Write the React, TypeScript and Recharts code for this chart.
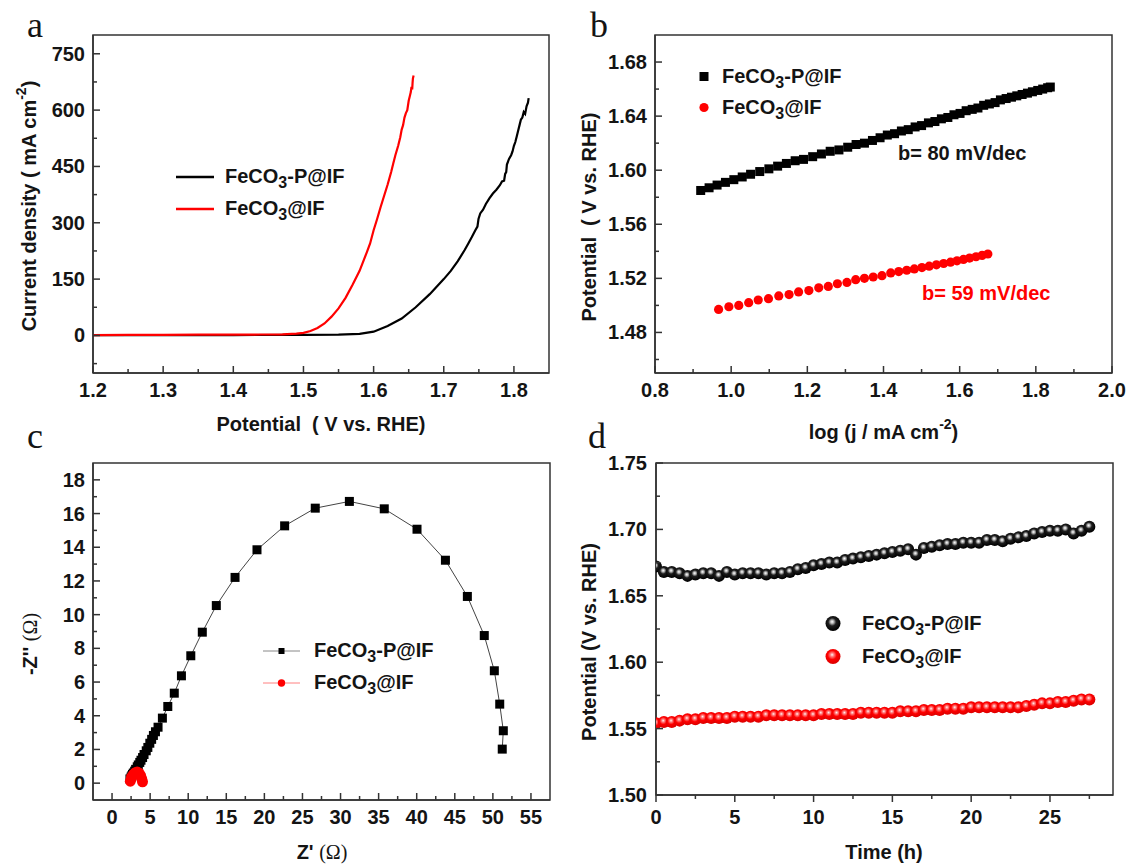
import React from "react";
import {
  LineChart,
  Line,
  ScatterChart,
  Scatter,
  XAxis,
  YAxis,
  ReferenceArea,
  Legend,
} from "recharts";

const FONT = "'Liberation Sans', Arial, Helvetica, sans-serif";
const SERIF = "'Liberation Serif', 'Times New Roman', serif";
const INK = "#141414";
const AXIS = "#333333";
const RED = "#ff0000";

// (a) polarization curves: potential (V vs. RHE) / current density (mA cm-2)
const lsvPotRed = [1.2, 1.25, 1.3, 1.35, 1.4, 1.44, 1.47, 1.49, 1.5, 1.51, 1.52, 1.53, 1.54, 1.55, 1.56, 1.57, 1.58, 1.59, 1.595, 1.6, 1.605, 1.61, 1.615, 1.62, 1.625, 1.628, 1.631, 1.635, 1.638, 1.64, 1.642, 1.644, 1.646, 1.648, 1.65, 1.652, 1.653, 1.654, 1.655, 1.6555, 1.656, 1.657];
const lsvJRed = [1, 1.5, 1.5, 2, 2, 2.5, 3, 5, 7, 12, 20, 32, 50, 72, 100, 135, 172, 220, 245, 280, 310, 342, 372, 402, 435, 458, 480, 505, 528, 548, 560, 580, 592, 600, 625, 640, 648, 662, 655, 672, 684, 692];
const lsvPotBlack = [1.2, 1.3, 1.4, 1.5, 1.55, 1.58, 1.6, 1.62, 1.64, 1.66, 1.68, 1.7, 1.71, 1.72, 1.73, 1.735, 1.74, 1.745, 1.748, 1.7495, 1.752, 1.756, 1.76, 1.765, 1.77, 1.775, 1.78, 1.783, 1.786, 1.7875, 1.789, 1.79, 1.793, 1.796, 1.798, 1.8, 1.802, 1.804, 1.806, 1.808, 1.81, 1.812, 1.814, 1.816, 1.818, 1.82, 1.821];
const lsvJBlack = [1, 1, 1, 1.5, 2, 4, 10, 25, 45, 75, 110, 150, 172, 198, 228, 245, 262, 280, 290, 310, 325, 335, 350, 365, 378, 388, 400, 410, 412, 430, 435, 455, 470, 480, 490, 505, 515, 530, 545, 560, 575, 580, 595, 590, 610, 620, 632];

// (b) Tafel plots: log(j) / potential
const tafelLogJBlack = [0.92, 0.942, 0.963, 0.985, 1.007, 1.029, 1.051, 1.075, 1.099, 1.122, 1.145, 1.168, 1.19, 1.214, 1.237, 1.26, 1.283, 1.306, 1.328, 1.35, 1.371, 1.391, 1.41, 1.429, 1.447, 1.465, 1.483, 1.5, 1.518, 1.535, 1.552, 1.569, 1.585, 1.601, 1.617, 1.633, 1.648, 1.663, 1.678, 1.693, 1.707, 1.722, 1.736, 1.75, 1.764, 1.778, 1.791, 1.805, 1.818, 1.831, 1.838];
const tafelPotBlack = [1.585, 1.587, 1.589, 1.591, 1.593, 1.595, 1.597, 1.599, 1.601, 1.603, 1.605, 1.607, 1.608, 1.61, 1.612, 1.614, 1.615, 1.617, 1.619, 1.62, 1.622, 1.624, 1.626, 1.627, 1.629, 1.63, 1.632, 1.633, 1.635, 1.636, 1.638, 1.639, 1.641, 1.642, 1.644, 1.645, 1.646, 1.648, 1.649, 1.65, 1.652, 1.653, 1.654, 1.655, 1.656, 1.657, 1.658, 1.659, 1.66, 1.661, 1.6615];
const tafelLogJRed = [0.967, 0.994, 1.02, 1.046, 1.071, 1.098, 1.125, 1.152, 1.177, 1.204, 1.23, 1.255, 1.279, 1.304, 1.327, 1.35, 1.373, 1.396, 1.419, 1.44, 1.461, 1.481, 1.501, 1.52, 1.539, 1.558, 1.576, 1.593, 1.61, 1.626, 1.643, 1.659, 1.674];
const tafelPotRed = [1.497, 1.499, 1.5, 1.502, 1.504, 1.505, 1.507, 1.508, 1.51, 1.511, 1.513, 1.514, 1.516, 1.517, 1.519, 1.52, 1.521, 1.522, 1.524, 1.525, 1.526, 1.527, 1.528, 1.529, 1.53, 1.531, 1.532, 1.533, 1.534, 1.535, 1.536, 1.537, 1.538];

// (c) Nyquist plots: Z' / -Z''
const eisReBlack = [2.35, 2.5, 2.6, 2.69, 2.8, 2.97, 3.1, 3.31, 3.45, 3.64, 3.8, 4.01, 4.2, 4.49, 4.7, 4.96, 5.2, 5.43, 5.7, 6.04, 6.61, 7.32, 8.17, 9.11, 10.34, 11.85, 13.69, 16.15, 19.03, 22.66, 26.68, 31.16, 35.74, 40.04, 43.77, 46.65, 48.87, 50.19, 50.9, 51.37, 51.23];
const eisImBlack = [0.25, 0.36, 0.44, 0.52, 0.6, 0.71, 0.82, 0.97, 1.08, 1.23, 1.36, 1.52, 1.7, 1.92, 2.12, 2.37, 2.6, 2.83, 3.05, 3.32, 3.86, 4.55, 5.34, 6.37, 7.56, 8.96, 10.54, 12.21, 13.85, 15.27, 16.32, 16.72, 16.28, 15.07, 13.23, 11.08, 8.76, 6.67, 4.69, 3.11, 2.02];
const eisReRed = [2.4, 2.55, 2.8, 3.05, 3.3, 3.55, 3.75, 3.9, 4.0];
const eisImRed = [0.12, 0.35, 0.52, 0.62, 0.66, 0.6, 0.45, 0.25, 0.08];

// (d) chronopotentiometry: time (h) / potential
const stabTime = [0, 0.5, 1, 1.5, 2, 2.5, 3, 3.5, 4, 4.5, 5, 5.5, 6, 6.5, 7, 7.5, 8, 8.5, 9, 9.5, 10, 10.5, 11, 11.5, 12, 12.5, 13, 13.5, 14, 14.5, 15, 15.5, 16, 16.5, 17, 17.5, 18, 18.5, 19, 19.5, 20, 20.5, 21, 21.5, 22, 22.5, 23, 23.5, 24, 24.5, 25, 25.5, 26, 26.5, 27, 27.5];
const stabBlack = [1.672, 1.668, 1.668, 1.667, 1.665, 1.666, 1.667, 1.667, 1.665, 1.668, 1.666, 1.667, 1.667, 1.667, 1.666, 1.667, 1.667, 1.668, 1.67, 1.671, 1.673, 1.674, 1.675, 1.675, 1.677, 1.678, 1.679, 1.68, 1.681, 1.682, 1.683, 1.684, 1.685, 1.681, 1.686, 1.687, 1.688, 1.689, 1.689, 1.69, 1.69, 1.69, 1.692, 1.692, 1.691, 1.693, 1.694, 1.695, 1.697, 1.698, 1.699, 1.699, 1.7, 1.697, 1.699, 1.702];
const stabRed = [1.554, 1.555, 1.555, 1.556, 1.557, 1.557, 1.558, 1.558, 1.558, 1.558, 1.559, 1.559, 1.559, 1.559, 1.56, 1.56, 1.56, 1.56, 1.56, 1.56, 1.56, 1.561, 1.561, 1.561, 1.561, 1.561, 1.562, 1.562, 1.562, 1.562, 1.562, 1.563, 1.563, 1.563, 1.564, 1.564, 1.564, 1.565, 1.565, 1.565, 1.566, 1.566, 1.566, 1.566, 1.566, 1.566, 1.566, 1.567, 1.568, 1.569, 1.569, 1.57, 1.57, 1.571, 1.572, 1.572];

// tick values (all ticks, then the labelled ones)
const aXTicks = [1.2, 1.25, 1.3, 1.35, 1.4, 1.45, 1.5, 1.55, 1.6, 1.65, 1.7, 1.75, 1.8];
const aXMajor = [1.2, 1.3, 1.4, 1.5, 1.6, 1.7, 1.8];
const aYTicks = [-75, 0, 75, 150, 225, 300, 375, 450, 525, 600, 675, 750];
const aYMajor = [0, 150, 300, 450, 600, 750];
const bXTicks = [0.8, 0.9, 1.0, 1.1, 1.2, 1.3, 1.4, 1.5, 1.6, 1.7, 1.8, 1.9, 2.0];
const bXMajor = [0.8, 1.0, 1.2, 1.4, 1.6, 1.8, 2.0];
const bYTicks = [1.46, 1.48, 1.5, 1.52, 1.54, 1.56, 1.58, 1.6, 1.62, 1.64, 1.66, 1.68];
const bYMajor = [1.48, 1.52, 1.56, 1.6, 1.64, 1.68];
const cXTicks = [0, 2.5, 5, 7.5, 10, 12.5, 15, 17.5, 20, 22.5, 25, 27.5, 30, 32.5, 35, 37.5, 40, 42.5, 45, 47.5, 50, 52.5, 55];
const cXMajor = [0, 5, 10, 15, 20, 25, 30, 35, 40, 45, 50, 55];
const cYTicks = [0, 1, 2, 3, 4, 5, 6, 7, 8, 9, 10, 11, 12, 13, 14, 15, 16, 17, 18];
const cYMajor = [0, 2, 4, 6, 8, 10, 12, 14, 16, 18];
const dXTicks = [0, 2.5, 5, 7.5, 10, 12.5, 15, 17.5, 20, 22.5, 25, 27.5];
const dXMajor = [0, 5, 10, 15, 20, 25];
const dYTicks = [1.5, 1.525, 1.55, 1.575, 1.6, 1.625, 1.65, 1.675, 1.7, 1.725, 1.75];
const dYMajor = [1.5, 1.55, 1.6, 1.65, 1.7, 1.75];

const zip = (xs: number[], ys: number[]) => xs.map((x, i) => ({ x, y: ys[i] }));

const lsvRed = zip(lsvPotRed, lsvJRed);
const lsvBlack = zip(lsvPotBlack, lsvJBlack);
const tafelBlack = zip(tafelLogJBlack, tafelPotBlack);
const tafelRed = zip(tafelLogJRed, tafelPotRed);
const eisBlack = zip(eisReBlack, eisImBlack);
const eisRed = zip(eisReRed, eisImRed);
const stabB = zip(stabTime, stabBlack);
const stabR = zip(stabTime, stabRed);

type TickCfg = { major: number[]; digits: number; inward: boolean; offset: number };
const near = (list: number[], v: number) => list.some((m) => Math.abs(m - v) < 1e-6);

const tickText = { fontFamily: FONT, fontWeight: 700, fontSize: 20, fill: INK } as const;
const titleText = { fontFamily: FONT, fontWeight: 700, fontSize: 20, fill: INK } as const;

function xTick(cfg: TickCfg) {
  return (p: any) => {
    const v = Number(p.payload.value);
    const big = near(cfg.major, v);
    const len = big ? 7 : 4;
    return (
      <g>
        <line x1={p.x} x2={p.x} y1={p.y} y2={cfg.inward ? p.y - len : p.y + len} stroke={AXIS} strokeWidth={1.5} />
        {big && (
          <text x={p.x} y={p.y + cfg.offset} textAnchor="middle" dominantBaseline="central" {...tickText}>
            {v.toFixed(cfg.digits)}
          </text>
        )}
      </g>
    );
  };
}

function yTick(cfg: TickCfg) {
  return (p: any) => {
    const v = Number(p.payload.value);
    const big = near(cfg.major, v);
    const len = big ? 7 : 4;
    return (
      <g>
        <line y1={p.y} y2={p.y} x1={p.x} x2={cfg.inward ? p.x + len : p.x - len} stroke={AXIS} strokeWidth={1.5} />
        {big && (
          <text x={p.x - cfg.offset} y={p.y} textAnchor="end" dominantBaseline="central" {...tickText}>
            {v.toFixed(cfg.digits)}
          </text>
        )}
      </g>
    );
  };
}

const axisLine = { stroke: AXIS, strokeWidth: 1.5 };

const sub = { fontSize: 16, position: "relative" as const, top: 5, verticalAlign: "baseline" };

type Row = { marker: React.ReactNode; label: React.ReactNode };

function LegendBox({ rows, markerW, gap, rowH }: { rows: Row[]; markerW: number; gap: number; rowH: number }) {
  return (
    <div style={{ fontFamily: FONT, fontWeight: 700, fontSize: 20, color: INK }}>
      {rows.map((r, i) => (
        <div key={i} style={{ display: "flex", alignItems: "center", height: rowH }}>
          <svg width={markerW} height={rowH} style={{ flex: "none", overflow: "visible" }}>
            {r.marker}
          </svg>
          <span style={{ marginLeft: gap, whiteSpace: "nowrap", lineHeight: `${rowH}px` }}>{r.label}</span>
        </div>
      ))}
    </div>
  );
}

const labelP = (
  <>
    FeCO<sub style={sub}>3</sub>-P@IF
  </>
);
const labelN = (
  <>
    FeCO<sub style={sub}>3</sub>@IF
  </>
);

const square = (size: number) => (p: any) => (
  <rect x={p.cx - size / 2} y={p.cy - size / 2} width={size} height={size} fill="#000" />
);
const dot = (r: number, fill: string) => (p: any) => <circle cx={p.cx} cy={p.cy} r={r} fill={fill} />;

function PanelA() {
  return (
    <LineChart width={560} height={440} margin={{ top: 35, right: 11, bottom: 27, left: 0 }}>
      <XAxis
        type="number"
        dataKey="x"
        domain={[1.2, 1.85]}
        allowDataOverflow
        ticks={aXTicks}
        interval={0}
        tickSize={0}
        tickMargin={0}
        tickLine={false}
        axisLine={axisLine}
        height={40}
        tick={xTick({ major: aXMajor, digits: 1, inward: true, offset: 17 })}
        label={() => (
          <text x={321} y={424} textAnchor="middle" dominantBaseline="central" {...titleText}>
            {"Potential\u00a0 ( V vs. RHE)"}
          </text>
        )}
      />
      <YAxis
        type="number"
        domain={[-100, 800]}
        allowDataOverflow
        ticks={aYTicks}
        interval={0}
        tickSize={0}
        tickMargin={0}
        tickLine={false}
        axisLine={axisLine}
        width={93}
        tick={yTick({ major: aYMajor, digits: 0, inward: true, offset: 8 })}
        label={() => (
          <text x={29} y={206} transform="rotate(-90 29 206)" textAnchor="middle" dominantBaseline="central" {...titleText}>
            Current density ( mA cm
            <tspan dy={-8} fontSize={14}>-2</tspan>
            <tspan dy={8}>)</tspan>
          </text>
        )}
      />
      <Line data={lsvBlack} dataKey="y" stroke="#000" strokeWidth={2.2} dot={false} isAnimationActive={false} />
      <Line data={lsvRed} dataKey="y" stroke={RED} strokeWidth={2.2} dot={false} isAnimationActive={false} />
      <ReferenceArea x1={1.2} x2={1.85} y1={-100} y2={800} fill="none" stroke={AXIS} strokeWidth={1.5} />
      <Legend
        layout="vertical"
        align="center"
        verticalAlign="middle"
        wrapperStyle={{ left: 176, top: 161, width: 300 }}
        content={() => (
          <LegendBox
            markerW={38}
            gap={11}
            rowH={32}
            rows={[
              { marker: <line x1={0} x2={38} y1={16} y2={16} stroke="#000" strokeWidth={2.5} />, label: labelP },
              { marker: <line x1={0} x2={38} y1={16} y2={16} stroke={RED} strokeWidth={2.5} />, label: labelN },
            ]}
          />
        )}
      />
    </LineChart>
  );
}

function PanelB() {
  return (
    <ScatterChart width={567} height={450} margin={{ top: 35, right: 15, bottom: 37, left: 0 }}>
      <XAxis
        type="number"
        dataKey="x"
        domain={[0.8, 2.0]}
        allowDataOverflow
        ticks={bXTicks}
        interval={0}
        tickSize={0}
        tickMargin={0}
        tickLine={false}
        axisLine={axisLine}
        height={40}
        tick={xTick({ major: bXMajor, digits: 1, inward: true, offset: 17 })}
        label={() => (
          <text x={323.5} y={432} textAnchor="middle" dominantBaseline="central" {...titleText}>
            log (j / mA cm
            <tspan dy={-8} fontSize={14}>-2</tspan>
            <tspan dy={8}>)</tspan>
          </text>
        )}
      />
      <YAxis
        type="number"
        dataKey="y"
        domain={[1.45, 1.7]}
        allowDataOverflow
        ticks={bYTicks}
        interval={0}
        tickSize={0}
        tickMargin={0}
        tickLine={false}
        axisLine={axisLine}
        width={95}
        tick={yTick({ major: bYMajor, digits: 2, inward: true, offset: 8 })}
        label={() => (
          <text x={29} y={217} transform="rotate(-90 29 217)" textAnchor="middle" dominantBaseline="central" {...titleText}>
            {"Potential\u00a0 ( V vs. RHE)"}
          </text>
        )}
      />
      <Scatter data={tafelBlack} fill="#000" shape={square(9)} isAnimationActive={false} />
      <Scatter data={tafelRed} fill={RED} shape={dot(4.6, RED)} isAnimationActive={false} />
      <ReferenceArea x1={0.8} x2={2.0} y1={1.45} y2={1.7} fill="none" stroke={AXIS} strokeWidth={1.5} />
      <text x={338} y={153} dominantBaseline="central" {...titleText}>
        b= 80 mV/dec
      </text>
      <text x={362} y={293} dominantBaseline="central" {...titleText} fill={RED}>
        b= 59 mV/dec
      </text>
      <Legend
        layout="vertical"
        align="center"
        verticalAlign="middle"
        wrapperStyle={{ left: 138, top: 61, width: 300 }}
        content={() => (
          <LegendBox
            markerW={12}
            gap={12}
            rowH={31}
            rows={[
              { marker: <rect x={1.5} y={11} width={9} height={9} fill="#000" />, label: labelP },
              { marker: <circle cx={6} cy={15.5} r={4.6} fill={RED} />, label: labelN },
            ]}
          />
        )}
      />
    </ScatterChart>
  );
}

function PanelC() {
  return (
    <ScatterChart width={560} height={424} margin={{ top: 23, right: 10, bottom: 24, left: 0 }}>
      <XAxis
        type="number"
        dataKey="x"
        domain={[-2.5, 57.5]}
        allowDataOverflow
        ticks={cXTicks}
        interval={0}
        tickSize={0}
        tickMargin={0}
        tickLine={false}
        axisLine={axisLine}
        height={40}
        tick={xTick({ major: cXMajor, digits: 0, inward: true, offset: 17 })}
        label={() => (
          <text x={322} y={412} textAnchor="middle" dominantBaseline="central" {...titleText}>
            {"Z' "}
            <tspan fontFamily={SERIF} fontWeight={400}>(Ω)</tspan>
          </text>
        )}
      />
      <YAxis
        type="number"
        dataKey="y"
        domain={[-1, 19]}
        allowDataOverflow
        ticks={cYTicks}
        interval={0}
        tickSize={0}
        tickMargin={0}
        tickLine={false}
        axisLine={axisLine}
        width={93}
        tick={yTick({ major: cYMajor, digits: 0, inward: true, offset: 8 })}
        label={() => (
          <text x={30} y={204} transform="rotate(-90 30 204)" textAnchor="middle" dominantBaseline="central" {...titleText}>
            {"-Z'' "}
            <tspan fontFamily={SERIF} fontWeight={400}>(Ω)</tspan>
          </text>
        )}
      />
      <Scatter
        data={eisBlack}
        fill="#000"
        line={{ stroke: "#444", strokeWidth: 1 }}
        shape={square(9)}
        isAnimationActive={false}
      />
      <Scatter
        data={eisRed}
        fill={RED}
        line={{ stroke: "#ff8080", strokeWidth: 1 }}
        shape={dot(5.5, RED)}
        isAnimationActive={false}
      />
      <ReferenceArea x1={-2.5} x2={57.5} y1={-1} y2={19} fill="none" stroke={AXIS} strokeWidth={1.5} />
      <Legend
        layout="vertical"
        align="center"
        verticalAlign="middle"
        wrapperStyle={{ left: 263, top: 195, width: 300 }}
        content={() => (
          <LegendBox
            markerW={37}
            gap={14}
            rowH={32}
            rows={[
              {
                marker: (
                  <g>
                    <line x1={0} x2={37} y1={16} y2={16} stroke="#888" strokeWidth={1} />
                    <rect x={15.5} y={13} width={6} height={6} fill="#000" />
                  </g>
                ),
                label: labelP,
              },
              {
                marker: (
                  <g>
                    <line x1={0} x2={37} y1={16} y2={16} stroke="#ff8080" strokeWidth={1} />
                    <circle cx={18.5} cy={16} r={3.7} fill={RED} />
                  </g>
                ),
                label: labelN,
              },
            ]}
          />
        )}
      />
    </ScatterChart>
  );
}

function PanelD() {
  return (
    <ScatterChart width={567} height={424} margin={{ top: 23, right: 14, bottom: 29, left: 0 }}>
      <XAxis
        type="number"
        dataKey="x"
        domain={[0, 29]}
        allowDataOverflow
        ticks={dXTicks}
        interval={0}
        tickSize={0}
        tickMargin={0}
        tickLine={false}
        axisLine={axisLine}
        height={40}
        tick={xTick({ major: dXMajor, digits: 0, inward: false, offset: 22 })}
        label={() => (
          <text x={324} y={412} textAnchor="middle" dominantBaseline="central" {...titleText}>
            Time (h)
          </text>
        )}
      />
      <YAxis
        type="number"
        dataKey="y"
        domain={[1.5, 1.75]}
        allowDataOverflow
        ticks={dYTicks}
        interval={0}
        tickSize={0}
        tickMargin={0}
        tickLine={false}
        axisLine={axisLine}
        width={96}
        tick={yTick({ major: dYMajor, digits: 2, inward: true, offset: 9 })}
        label={() => (
          <text x={29} y={202} transform="rotate(-90 29 202)" textAnchor="middle" dominantBaseline="central" {...titleText}>
            Potential (V vs. RHE)
          </text>
        )}
      />
      <Scatter data={stabB} fill="#000" shape={dot(6, "url(#sphereK)")} isAnimationActive={false} />
      <Scatter data={stabR} fill={RED} shape={dot(6, "url(#sphereR)")} isAnimationActive={false} />
      <ReferenceArea x1={0} x2={29} y1={1.5} y2={1.75} fill="none" stroke={AXIS} strokeWidth={1.5} />
      <Legend
        layout="vertical"
        align="center"
        verticalAlign="middle"
        wrapperStyle={{ left: 265, top: 167, width: 300 }}
        content={() => (
          <LegendBox
            markerW={16}
            gap={21}
            rowH={33}
            rows={[
              { marker: <circle cx={8} cy={16.5} r={7.5} fill="url(#sphereK)" />, label: labelP },
              { marker: <circle cx={8} cy={16.5} r={7.5} fill="url(#sphereR)" />, label: labelN },
            ]}
          />
        )}
      />
    </ScatterChart>
  );
}

export default function App() {
  const letter = { fontFamily: SERIF, fontSize: 36, fill: INK } as const;
  return (
    <div style={{ position: "absolute", left: 0, top: 0, width: 1127, height: 864, background: "#fff" }}>
      <div style={{ position: "absolute", left: 0, top: 0 }}>
        <PanelA />
      </div>
      <div style={{ position: "absolute", left: 560, top: 0 }}>
        <PanelB />
      </div>
      <div style={{ position: "absolute", left: 0, top: 440 }}>
        <PanelC />
      </div>
      <div style={{ position: "absolute", left: 560, top: 440 }}>
        <PanelD />
      </div>
      <svg width={1127} height={864} style={{ position: "absolute", left: 0, top: 0, pointerEvents: "none" }}>
        <defs>
          <radialGradient id="sphereK" cx="45%" cy="42%" r="55%" fx="44%" fy="38%">
            <stop offset="0%" stopColor="#ffffff" />
            <stop offset="20%" stopColor="#b8b8b8" />
            <stop offset="48%" stopColor="#1e1e1e" />
            <stop offset="100%" stopColor="#000" />
          </radialGradient>
          <radialGradient id="sphereR" cx="45%" cy="42%" r="55%" fx="44%" fy="38%">
            <stop offset="0%" stopColor="#fff4f4" />
            <stop offset="22%" stopColor="#ff8080" />
            <stop offset="55%" stopColor="#ff0000" />
            <stop offset="100%" stopColor="#dd0000" />
          </radialGradient>
        </defs>
        <text x={27} y={37} {...letter}>a</text>
        <text x={590} y={37} {...letter}>b</text>
        <text x={27} y={448} {...letter}>c</text>
        <text x={588} y={448} {...letter}>d</text>
      </svg>
    </div>
  );
}
